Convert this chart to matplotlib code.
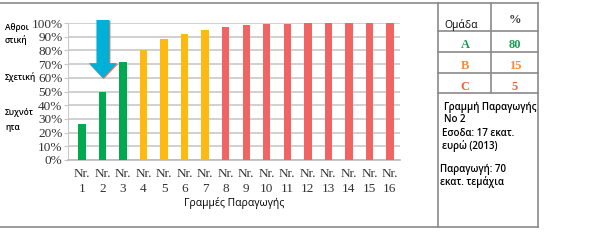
import matplotlib
matplotlib.use("Agg")
import matplotlib.pyplot as plt
from matplotlib.patches import FancyArrow
from matplotlib.lines import Line2D

# Δεδομένα
grammes = [f"Nr.\n{i}" for i in range(1, 17)]
athroistiki = [26, 50, 71.5, 80, 88, 92, 95, 97, 98.3, 99, 99.5, 100, 100, 100, 100, 100]
omades = ["A", "A", "A", "B", "B", "B", "B", "C", "C", "C", "C", "C", "C", "C", "C", "C"]
pinakas_omada = ["A", "B", "C"]
pinakas_pososto = ["80", "15", "5"]

xromata = {"A": "#00A94F", "B": "#FFBA12", "C": "#F06563"}
xromata_keimenou = {"A": "#1F9E5A", "B": "#F7893A", "C": "#F2613F"}

W, H = 598, 248
fig = plt.figure(figsize=(W / 100, H / 100), dpi=100)
sans = ["Open Sans", "DejaVu Sans"]
serif = ["Liberation Serif", "DejaVu Serif"]

def fx(px):
    return px / W

def fy(py):
    return 1 - py / H

# Άξονες γραφήματος
ax = fig.add_axes([fx(68), fy(160), fx(400) - fx(68), fy(23) - fy(160)])
x = list(range(1, 17))
ax.bar(x, athroistiki, width=0.36, color=[xromata[o] for o in omades], zorder=3)
ax.set_xlim(0.32, 16.49)
ax.set_ylim(0, 100)
ax.set_yticks(range(0, 101, 10))
ax.set_yticklabels([f"{v}%" for v in range(0, 101, 10)], fontfamily=serif,
                   fontsize=9.5, color="#333333")
ax.set_xticks(x)
ax.set_xticklabels(grammes, fontfamily=serif, fontsize=9.5, color="#333333",
                   linespacing=1.25)
ax.yaxis.grid(True, color="#c8c8c8", linewidth=1.2, zorder=0)
for s in ["top", "right"]:
    ax.spines[s].set_visible(False)
ax.spines["left"].set_color("#c8c8c8")
ax.spines["bottom"].set_color("#bbbbbb")
ax.spines["bottom"].set_linewidth(1.2)
ax.tick_params(axis="y", length=3, color="#c8c8c8", pad=1)
ax.tick_params(axis="x", length=0, pad=6)
ax.set_xlabel("Γραμμές Παραγωγής", fontfamily=sans, fontsize=7.5, labelpad=2)

# Βέλος
ax.add_patch(FancyArrow(2.06, 101.5, 0, -42.5, width=0.65, head_width=1.4,
                        head_length=11, length_includes_head=True,
                        facecolor="#E07868", edgecolor="none", clip_on=False, zorder=4))
ax.add_patch(FancyArrow(2.02, 102.2, 0, -42.5, width=0.63, head_width=1.36,
                        head_length=11, length_includes_head=True,
                        facecolor="#00B0D6", edgecolor="none", clip_on=False, zorder=5))

# Ετικέτα άξονα y
for txt, py in [("Αθροι", 27), ("στική", 40), ("Σχετική", 77), ("Συχνότ", 113), ("ητα", 127)]:
    fig.text(fx(5), fy(py), txt, fontfamily=sans, fontsize=6, va="center", ha="left",
             fontweight="semibold")

# Πλαίσιο
grey = "#8a8a8a"
for xs, ys in [([0, 538], [3, 3]), ([0, 538], [227, 227]), ([538, 538], [3, 227]),
               ([438, 438], [3, 227]), ([491, 491], [3, 93]),
               ([438, 538], [31, 31]), ([438, 538], [52, 52]), ([438, 538], [73, 73]),
               ([438, 538], [93, 93])]:
    fig.add_artist(Line2D([fx(v) for v in xs], [fy(v) for v in ys], color=grey, linewidth=1.2))

# Πίνακας
fig.text(fx(444), fy(25), "Ομάδα", fontfamily=sans, fontsize=7.5, va="center")
fig.text(fx(515), fy(20), "%", fontfamily=serif, fontsize=9, va="center", ha="center",
         fontweight="bold", color="#444444")
for i, (om, pos) in enumerate(zip(pinakas_omada, pinakas_pososto)):
    py = 45 + i * 21
    c = xromata_keimenou[om]
    fig.text(fx(465), fy(py), om, fontfamily=serif, fontsize=9, fontweight="bold",
             color=c, va="center", ha="center")
    fig.text(fx(515), fy(py), pos, fontfamily=serif, fontsize=9, fontweight="bold",
             color=c, va="center", ha="center")

for txt, px, py in [("Γραμμή Παραγωγής", 444, 107), ("Νο 2", 444, 119),
                    ("Εσοδα: 17 εκατ.", 442, 134), ("ευρώ (2013)", 442, 146),
                    ("Παραγωγή: 70", 440, 169), ("εκατ. τεμάχια", 440, 182)]:
    fig.text(fx(px), fy(py), txt, fontfamily=sans, fontsize=7, va="center", ha="left",
             fontweight="semibold")

fig.savefig("out.png", dpi=100)
